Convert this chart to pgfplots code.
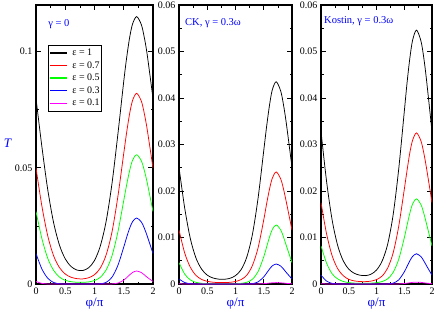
\documentclass[border=0pt]{standalone}
\usepackage{fontspec}
\setmainfont{Liberation Serif}
\usepackage{pgfplots}
\usepackage{pgfplotstable}
\pgfplotsset{compat=1.18}
\definecolor{cblue}{RGB}{0,0,255}
\definecolor{cred}{RGB}{255,0,0}
\definecolor{cgreen}{RGB}{0,255,0}
\definecolor{cmag}{RGB}{255,0,255}

\pgfplotstableread{
phi a b c d e
0 0.0798 0.0499 0.0312 0.0131 0.0011
0.1 0.0592 0.0336 0.0196 0.0065 0.00026
0.2 0.0407 0.0208 0.0111 0.0025 0.00003
0.3 0.0265 0.0122 0.0059 0.00067 0
0.4 0.0168 0.0071 0.0030 0.00011 0
0.5 0.0108 0.0043 0.0016 0.00001 0
0.6 0.0075 0.0029 0.0010 0 0
0.7 0.0060 0.0023 0.00075 0 0
0.8 0.0058 0.0022 0.00071 0 0
0.9 0.0070 0.0027 0.00091 0 0
1.0 0.0101 0.0040 0.0015 0 0
1.1 0.0164 0.0069 0.0029 0.0001 0
1.2 0.0271 0.0126 0.0061 0.00072 0
1.3 0.0434 0.0225 0.0122 0.00295 0.00005
1.4 0.0645 0.0377 0.0224 0.00802 0.0004
1.5 0.0872 0.0562 0.0359 0.01588 0.00166
1.55 0.0974 0.0653 0.0427 0.02012 0.00272
1.6 0.1059 0.0732 0.0487 0.02395 0.00392
1.65 0.1118 0.0789 0.0532 0.02681 0.00496
1.72 0.1150 0.0820 0.0556 0.0284 0.0056
1.8 0.1116 0.0787 0.0530 0.02671 0.00492
1.85 0.1062 0.0735 0.0490 0.02412 0.00398
1.9 0.0988 0.0666 0.0437 0.02072 0.0029
2.0 0.0798 0.0499 0.0312 0.0131 0.0011
}\tA

\pgfplotstableread{
phi a b c d e
0 0.0251 0.0116 0.0046 0.00109 0.00005
0.1 0.0164 0.0067 0.00214 0.00032 0.00001
0.2 0.0098 0.0036 0.00089 0.00006 0
0.3 0.0056 0.00185 0.00036 0.00001 0
0.4 0.0032 0.00099 0.00015 0 0
0.5 0.0019 0.00058 0.00007 0 0
0.6 0.0013 0.00039 0.00004 0 0
0.7 0.00105 0.00031 0.00003 0 0
0.8 0.00101 0.0003 0.00003 0 0
0.9 0.00122 0.00036 0.00004 0 0
1.0 0.0018 0.00054 0.00006 0 0
1.1 0.0031 0.00096 0.00014 0 0
1.2 0.0058 0.0019 0.00037 0.00001 0
1.3 0.0107 0.0040 0.00103 0.00008 0
1.4 0.0185 0.0078 0.00266 0.00046 0.00002
1.5 0.0287 0.0138 0.00584 0.00154 0.00008
1.55 0.0338 0.0172 0.00791 0.00234 0.00013
1.6 0.0383 0.0203 0.01001 0.00318 0.0002
1.65 0.0417 0.0227 0.0117 0.00388 0.00026
1.72 0.0435 0.0241 0.0127 0.0043 0.0003
1.8 0.0415 0.0226 0.01164 0.00386 0.00026
1.85 0.0385 0.0204 0.0101 0.00322 0.00021
1.9 0.0345 0.0176 0.00823 0.00246 0.00014
2.0 0.0251 0.0116 0.0046 0.00109 0.00005
}\tB

\pgfplotstableread{
phi a b c d e
0 0.0328 0.0175 0.0082 0.0019 0.00007
0.1 0.0221 0.0108 0.0045 0.00063 0.00001
0.2 0.0138 0.0061 0.0022 0.00014 0
0.3 0.0083 0.0033 0.0011 0.00002 0
0.4 0.0050 0.0018 0.00055 0 0
0.5 0.0032 0.0010 0.0003 0 0
0.6 0.0023 0.00067 0.00019 0 0
0.7 0.0019 0.00053 0.00015 0 0
0.8 0.0018 0.00051 0.00014 0 0
0.9 0.0021 0.00062 0.00018 0 0
1.0 0.0030 0.00095 0.00028 0 0
1.1 0.0049 0.0017 0.00053 0 0
1.2 0.0085 0.0034 0.0011 0.00002 0
1.3 0.0149 0.0067 0.0025 0.00018 0
1.4 0.0247 0.0124 0.0053 0.00088 0.00002
1.5 0.0370 0.0203 0.0099 0.00259 0.0001
1.55 0.0432 0.0244 0.0126 0.00377 0.00018
1.6 0.0485 0.0282 0.0152 0.00497 0.00027
1.65 0.0524 0.0309 0.0172 0.00593 0.00035
1.72 0.0546 0.0325 0.0183 0.0065 0.0004
1.8 0.0523 0.0308 0.0171 0.0059 0.00035
1.85 0.0488 0.0283 0.0153 0.00502 0.00027
1.9 0.0440 0.0250 0.0130 0.00395 0.00019
2.0 0.0328 0.0175 0.0082 0.0019 0.00007
}\tC

\pgfplotsset{
  panel/.style={
    scale only axis, height=279pt, anchor=south west,
    xmin=0, xmax=2, ymin=0,
    xtick={0,0.5,1,1.5,2}, minor x tick num=1,
    scaled y ticks=false,
    yticklabel style={/pgf/number format/fixed, /pgf/number format/precision=2},
    /pgf/number format/assume math mode=true,
    tick align=inside, xtick pos=both, ytick pos=both,
    major tick length=5pt, minor tick length=2.5pt,
    major tick style={line width=0.6pt, black},
    minor tick style={line width=0.6pt, black},
    axis line style={line width=1.1pt},
    tick label style={font=\fontsize{10}{12}\selectfont},
    xlabel={φ/π},
    xlabel style={font=\fontsize{13}{15}\selectfont, text=cblue, at={(axis description cs:0.5,-0.072)}, anchor=center},
    clip=true,
  },
  cK/.style={color=black, line width=0.75pt, smooth, tension=0.5, mark=none},
  cR/.style={color=cred, line width=0.75pt, smooth, tension=0.5, mark=none},
  cG/.style={color=cgreen, line width=0.75pt, smooth, tension=0.5, mark=none},
  cB/.style={color=cblue, line width=0.75pt, smooth, tension=0.5, mark=none},
  cM/.style={color=cmag, line width=0.75pt, smooth, tension=0.5, mark=none},
}
\newcommand{\lsamp}[1]{\textcolor{#1}{\rule[0.45ex]{17pt}{1.4pt}}}

\begin{document}
\begin{tikzpicture}[x=1pt,y=1pt]
\path[use as bounding box] (0,0) rectangle (436,314);
\begin{axis}[panel, at={(36pt,30pt)}, width=117pt, ymax=0.12,
  ytick={0,0.05,0.1}, minor y tick num=1,
  ylabel={\textit{T}},
  ylabel style={rotate=-90, font=\fontsize{13}{15}\selectfont, text=cblue, at={(axis description cs:-0.24,0.505)}, anchor=center}]
\addplot[cK] table[x=phi,y=a]{\tA};
\addplot[cR] table[x=phi,y=b]{\tA};
\addplot[cG] table[x=phi,y=c]{\tA};
\addplot[cB] table[x=phi,y=d]{\tA};
\addplot[cM] table[x=phi,y=e]{\tA};
\node[anchor=west, text=cblue, font=\fontsize{10.5}{12}\selectfont, inner sep=0pt] at (rel axis cs:0.103,0.932) {γ = 0};
\node[draw=black, line width=0.7pt, fill=white, anchor=north west, inner xsep=2pt, inner ysep=1.5pt, font=\fontsize{10}{12.6}\selectfont] at (rel axis cs:0.103,0.857) {%
  \renewcommand{\arraystretch}{1}%
  \begin{tabular}{@{}l@{\hspace{5pt}}l@{}}
  \lsamp{black} & ε = 1\\
  \lsamp{cred} & ε = 0.7\\
  \lsamp{cgreen} & ε = 0.5\\
  \lsamp{cblue} & ε = 0.3\\
  \lsamp{cmag} & ε = 0.1
  \end{tabular}};
\end{axis}

\begin{axis}[panel, at={(179pt,30pt)}, width=113pt, ymax=0.06,
  ytick={0,0.01,0.02,0.03,0.04,0.05,0.06}, minor y tick num=1]
\addplot[cK] table[x=phi,y=a]{\tB};
\addplot[cR] table[x=phi,y=b]{\tB};
\addplot[cG] table[x=phi,y=c]{\tB};
\addplot[cB] table[x=phi,y=d]{\tB};
\addplot[cM] table[x=phi,y=e]{\tB};
\node[anchor=west, text=cblue, font=\fontsize{10.5}{12}\selectfont, inner sep=0pt] at (rel axis cs:0.053,0.935) {CK, γ = 0.3ω};
\end{axis}

\begin{axis}[panel, at={(321pt,30pt)}, width=111pt, ymax=0.06,
  ytick={0,0.01,0.02,0.03,0.04,0.05,0.06}, minor y tick num=1]
\addplot[cK] table[x=phi,y=a]{\tC};
\addplot[cR] table[x=phi,y=b]{\tC};
\addplot[cG] table[x=phi,y=c]{\tC};
\addplot[cB] table[x=phi,y=d]{\tC};
\addplot[cM] table[x=phi,y=e]{\tC};
\node[anchor=west, text=cblue, font=\fontsize{10.5}{12}\selectfont, inner sep=0pt] at (rel axis cs:0.027,0.943) {Kostin, γ = 0.3ω};
\end{axis}
\end{tikzpicture}
\end{document}
